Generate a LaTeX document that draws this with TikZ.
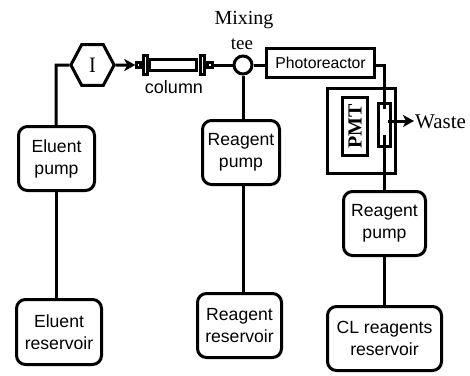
\documentclass[tikz,border=0pt]{standalone}
\usepackage{fontspec}
\setmainfont{Liberation Sans}
\newfontfamily\serifx{Liberation Serif}
\usetikzlibrary{shapes.geometric,arrows.meta,calc}
\tikzset{
  x=1pt,y=-1pt,
  rbox/.style={draw,line width=3pt,rounded corners=9pt,fill=white,align=center,font=\fontsize{17.6}{22}\selectfont,inner sep=0pt},
  sbox/.style={draw,line width=3pt,fill=white,inner sep=0pt},
  cbox/.style={draw,line width=2.4pt,fill=white,inner sep=0pt},
  pipe/.style={line width=3pt},
  serlab/.style={font=\serifx\fontsize{20}{22}\selectfont,inner sep=0pt},
  sanslab/.style={font=\fontsize{18}{20}\selectfont,inner sep=0pt},
  tip/.style={-{Stealth[length=11pt,width=12pt,inset=3pt]}}
}
\newcommand{\bx}[7][rbox]{\node[#1,minimum width=#4-#3-3 pt,minimum height=#6-#5-3 pt] (#2) at ({(#3+#4)/2},{(#5+#6)/2}) {#7};}
\begin{document}
\begin{tikzpicture}
\useasboundingbox (0,0) rectangle (470,375);
% boxes
\bx{epump}{17}{96}{125}{192}{Eluent\\pump}
\bx{eres}{15}{103}{298}{366}{Eluent\\reservoir}
\bx{rpump}{201}{281}{119}{186}{Reagent\\pump}
\bx{rres}{196}{283}{292}{359}{Reagent\\reservoir}
\bx{rpumpb}{342}{427}{190}{257}{Reagent\\pump}
\bx{clres}{326}{443}{305}{372}{CL reagents\\reservoir}
\bx[sbox]{photo}{265}{376}{47}{79}{\fontsize{15.8}{18}\selectfont Photoreactor}
\bx[sbox]{outer}{326}{397}{87}{175}{}
\bx[sbox]{pmt}{341}{369}{96}{157}{\rotatebox{90}{\serifx\bfseries\fontsize{20}{22}\selectfont PMT}}
\bx[sbox]{cell}{377}{392}{102}{148}{}
\node[regular polygon,regular polygon sides=6,draw,line width=3pt,fill=white,minimum size=47pt,inner sep=0pt,xscale=.92,transform shape] (inj) at (92.5,65) {\serifx\fontsize{22}{24}\selectfont I};
\node[circle,draw,line width=3pt,fill=white,minimum size=18pt,inner sep=0pt] (tee) at (243,65) {};
% column
\bx[cbox]{tube}{148}{198}{58}{72}{}
\bx[cbox]{flangeL}{142}{149}{54}{76}{}
\bx[cbox]{flangeR}{199}{206}{54}{76}{}
\bx[cbox]{nipL}{135}{142}{61}{69}{}
\bx[cbox]{nipR}{206}{214}{61}{69}{}
% coordinates
\coordinate (bend1) at (56,65);
\coordinate (bend2) at (384,65);
\coordinate (cellT) at (384,109);
\coordinate (cellB) at (384,135);
\coordinate (wasteS) at (388,121);
\coordinate (wasteE) at (414,121);
% connectors
\draw[pipe] (inj.west) -- (bend1) -- (bend1 |- epump.north);
\draw[pipe] (epump.south -| bend1) -- (bend1 |- eres.north);
\draw[pipe,tip] (inj.east) -- (nipL.west);
\draw[pipe] (nipR.east) -- (tee.west);
\draw[pipe] (tee.east) -- (tee.east -| photo.west);
\draw[pipe] (tee.south) -- (tee.south |- rpump.north);
\draw[pipe] (tee |- rpump.south) -- (tee |- rres.north);
\draw[pipe] (photo.east |- bend2) -- (bend2) -- (cellT);
\draw[pipe] (cellB) -- (cellB |- rpumpb.north);
\draw[pipe] (cellB |- rpumpb.south) -- (cellB |- clres.north);
\draw[pipe,tip] (wasteS) -- (wasteE);
% labels
\node[serlab] (mix) at (244,20) {Mixing};
\node[font=\serifx\fontsize{19}{20}\selectfont,inner sep=0pt] (teel) at (242,44) {tee};
\node[sanslab] (coll) at (174,87) {column};
\node[font=\serifx\fontsize{21}{22}\selectfont,inner sep=0pt,anchor=west] (waste) at (415,122) {Waste};
\end{tikzpicture}
\end{document}
